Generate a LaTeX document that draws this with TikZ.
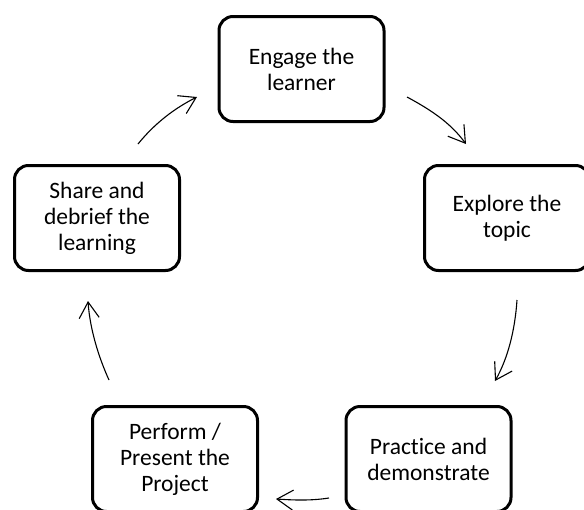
\documentclass[tikz,border=0pt]{standalone}
\usepackage{fontspec}
\setmainfont{Carlito}[Ligatures={NoCommon}]
\usetikzlibrary{arrows.meta}
\tikzset{
  stagebox/.style={draw=black, line width=3pt, rounded corners=14pt,
    minimum width=165pt, minimum height=105pt, inner sep=0pt,
    align=center, font=\fontsize{23.5}{26}\selectfont, fill=white},
  cyclearrow/.style={draw=black, line width=1.1pt,
    -{Straight Barb[length=16pt,width=20pt,line width=1.1pt]}}
}
\begin{document}
\begin{tikzpicture}[x=1pt,y=-1pt]
\useasboundingbox (0,0) rectangle (584,509);
\clip (0,0) rectangle (584,509);
\fill[white] (0,0) rectangle (584,509);
\node[stagebox] (engage)   at (301.5,69)  {Engage the\\learner};
\node[stagebox] (explore)  at (507,218)   {Explore the\\topic};
\node[stagebox] (practice) at (428.5,459) {Practice and\\demonstrate};
\node[stagebox] (perform)  at (175,459)   {Perform /\\Present the\\Project};
\node[stagebox] (share)    at (97,218)    {Share and\\debrief the\\learning};
\coordinate (a1s) at (407,97);  \coordinate (a1e) at (466,144);
\coordinate (a2s) at (517,300); \coordinate (a2e) at (495,381);
\coordinate (a3s) at (329,498); \coordinate (a3e) at (276,499);
\coordinate (a4s) at (109,380); \coordinate (a4e) at (88,301);
\coordinate (a5s) at (138,144); \coordinate (a5e) at (197,97);
\draw[cyclearrow] (a1s) .. controls (435,112) and (452,125) .. (a1e);
\draw[cyclearrow] (a2s) .. controls (515,330) and (508,358) .. (a2e);
\draw[cyclearrow] (a3s) .. controls (310,501) and (292,500) .. (a3e);
\draw[cyclearrow] (a4s) .. controls (99,358) and (90,330) .. (a4e);
\draw[cyclearrow] (a5s) .. controls (155,123) and (175,108) .. (a5e);
\end{tikzpicture}
\end{document}
